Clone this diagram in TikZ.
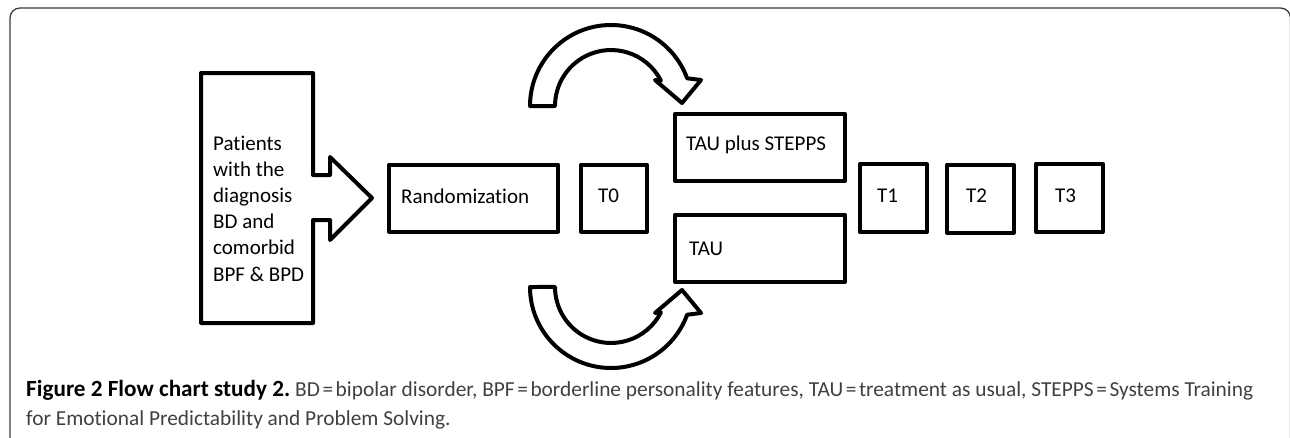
\documentclass[tikz,border=0pt]{standalone}
\usepackage{fontspec}
\setmainfont{Carlito}[Ligatures=NoCommon]
\newfontfamily\capfont{Carlito}[Ligatures=NoCommon]
\definecolor{capgray}{RGB}{64,64,64}
\definecolor{framegray}{RGB}{60,60,60}
\newsavebox\capboxA
\newsavebox\capboxB
\newcommand\eqs{\hspace{0.12em}=\hspace{0.12em}}
\newcommand\capreg{BD\eqs bipolar disorder, BPF\eqs borderline personality features, TAU\eqs treatment as usual, STEPPS\eqs Systems Training}
\begin{document}
\sbox\capboxA{\capfont\fontsize{20}{24}\selectfont\bfseries Figure 2 Flow chart study 2.}%
\sbox\capboxB{\capfont\fontsize{20}{24}\selectfont\capreg}%
\pgfmathsetmacro\scaleA{264/\the\wd\capboxA}%
\pgfmathsetmacro\scaleB{958/\the\wd\capboxB}%
\begin{tikzpicture}[x=1pt,y=1pt,
  boxline/.style={draw=black, line width=4pt, line join=round},
  stagebox/.style={boxline, rectangle, inner sep=0pt},
  lbl/.style={anchor=base west, inner sep=0pt, font=\fontsize{21}{26.2}\selectfont},
  captext/.style={anchor=base west, inner sep=0pt, font=\capfont\fontsize{20}{24}\selectfont},
  blockarrow/.style={boxline, fill=white}]
\useasboundingbox (0,0) rectangle (1290,-437);
% frame
\draw[framegray, line width=1.3pt, rounded corners=10pt] (10,-8) rectangle (1290.5,-480);

% patients box with built-in block arrow
\draw[boxline] (201,-73) -- (313,-73) -- (313,-175) -- (330,-175) -- (330,-157)
  -- (372,-198) -- (330,-240) -- (330,-220) -- (313,-220) -- (313,-323)
  -- (201,-323) -- cycle;
\node[lbl] (pattext) at (213,-150) {\vtop{\baselineskip=26.2pt
  \hbox{Patients}\hbox{with the}\hbox{diagnosis}\hbox{BD and}\hbox{comorbid}\hbox{BPF \& BPD}}};

% boxes
\node[stagebox, minimum width=169pt, minimum height=67pt] (rand) at (473.5,-198) {};
\node[lbl] (randt) at (401,-203) {Randomization};
\node[stagebox, minimum width=66pt, minimum height=67pt] (t0) at (614,-198) {};
\node[lbl] (t0t) at (598,-202) {T0};
\node[stagebox, minimum width=169.5pt, minimum height=67.3pt] (stepps) at (760,-147.4) {};
\node[lbl] (steppst) at (686,-150) {TAU plus STEPPS};
\node[stagebox, minimum width=169.5pt, minimum height=67.3pt] (tau) at (760,-248.4) {};
\node[lbl] (taut) at (689,-255) {TAU};
\node[stagebox, minimum width=67.3pt, minimum height=67.7pt] (t1) at (893.3,-198.2) {};
\node[lbl] (t1t) at (877,-202) {T1};
\node[stagebox, minimum width=66.7pt, minimum height=68pt] (t2) at (980.3,-198.7) {};
\node[lbl] (t2t) at (966,-202) {T2};
\node[stagebox, minimum width=66.7pt, minimum height=68.3pt] (t3) at (1069.3,-197.8) {};
\node[lbl] (t3t) at (1055,-202) {T3};

% curved block arrows
\draw[blockarrow] (530,-106) arc[start angle=180, end angle=20, radius=81]
  -- (701,-80) -- (682,-103) -- (655,-80) -- (660.9,-80.6)
  arc[start angle=27, end angle=180, radius=56] -- cycle;
\draw[blockarrow] (530,-287) arc[start angle=180, end angle=340, radius=81]
  -- (701,-313) -- (682,-290) -- (655,-313) -- (660.9,-312.4)
  arc[start angle=-27, end angle=-180, radius=56] -- cycle;

% caption
\node[captext, scale=\scaleA] (capbold) at (26,-396) {\bfseries Figure 2 Flow chart study 2.};
\node[captext, scale=\scaleB, text=capgray] (capline1) at (295,-396) {\capreg};
\node[captext, scale=\scaleB, text=capgray] (capline2) at (26,-425) {for Emotional Predictability and Problem Solving.};
\end{tikzpicture}
\end{document}
